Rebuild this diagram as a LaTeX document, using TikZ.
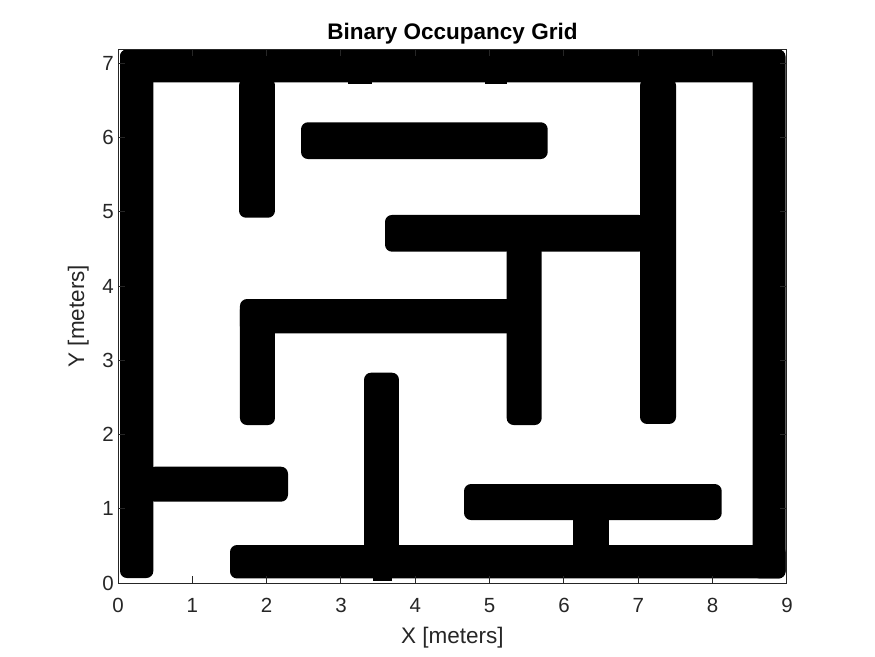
\documentclass[tikz,border=0pt]{standalone}
\usepackage{fontspec}
\setmainfont{Liberation Sans}
\usepackage{xcolor}
\definecolor{axisgray}{gray}{0.15}

\begin{document}
\begin{tikzpicture}[x=74.33pt,y=74.2pt,
  wall/.style={fill=black,rounded corners=7pt},
  tickmark/.style={axisgray,line width=1pt},
  ticklabel/.style={text=axisgray,font=\fontsize{20.5}{24}\selectfont,inner sep=0pt},
  axislabel/.style={text=axisgray,font=\fontsize{22.5}{27}\selectfont,inner sep=0pt}]
\useasboundingbox (-1.5875,-0.9838) rectangle (10.184,7.857);
% outer frame
\fill[wall] (0.027,6.746) rectangle (8.973,7.19);
\fill[wall] (0.027,0.067) rectangle (0.475,7.19);
\fill[wall] (8.539,0.061) rectangle (8.98,7.19);
\fill[wall] (1.507,0.061) rectangle (8.98,0.512);
\fill (3.094,6.725) rectangle (3.417,6.76);
\fill (4.937,6.725) rectangle (5.233,6.76);
% inner walls
\fill[wall] (1.628,4.923) rectangle (2.112,6.80);
\fill[wall] (2.462,5.714) rectangle (5.781,6.209);
\fill[wall] (7.023,2.143) rectangle (7.507,6.80);
\fill[wall] (3.592,4.465) rectangle (7.10,4.960);
\fill[wall] (5.229,2.129) rectangle (5.70,4.55);
\fill[wall] (1.641,3.365) rectangle (5.65,3.827);
\fill[wall] (1.641,2.129) rectangle (2.112,3.78);
\fill[wall] (3.31,0.10) rectangle (3.78,2.834);
\fill (3.43,0.027) rectangle (3.69,0.12);
\fill[wall] (0.40,1.096) rectangle (2.287,1.567);
\fill[wall] (4.655,0.849) rectangle (8.122,1.334);
\fill (6.117,0.45) rectangle (6.61,0.90);
% axes
\draw[tickmark] (0,0) rectangle (9,7.19);
\foreach \x in {0,...,9} {
  \draw[tickmark] (\x,0) -- (\x,0.088);
  \draw[tickmark] (\x,7.19) -- (\x,7.102);
  \node[ticklabel,anchor=base] (xt\x) at (\x,-0.404) {\x};
}
\foreach \y in {0,...,7} {
  \draw[tickmark] (0,\y) -- (0.088,\y);
  \draw[tickmark] (9,\y) -- (8.912,\y);
  \node[ticklabel,anchor=east] (yt\y) at (-0.054,\y) {\y};
}
\node[axislabel,anchor=base] (xlabel) at (4.5,-0.809) {X [meters]};
\node[axislabel,anchor=base,rotate=90] (ylabel) at (-0.457,3.596) {Y [meters]};
\node[font=\bfseries\fontsize{22.5}{27}\selectfont,inner sep=0pt,anchor=base] (title) at (4.5,7.318) {Binary Occupancy Grid};
\end{tikzpicture}
\end{document}
